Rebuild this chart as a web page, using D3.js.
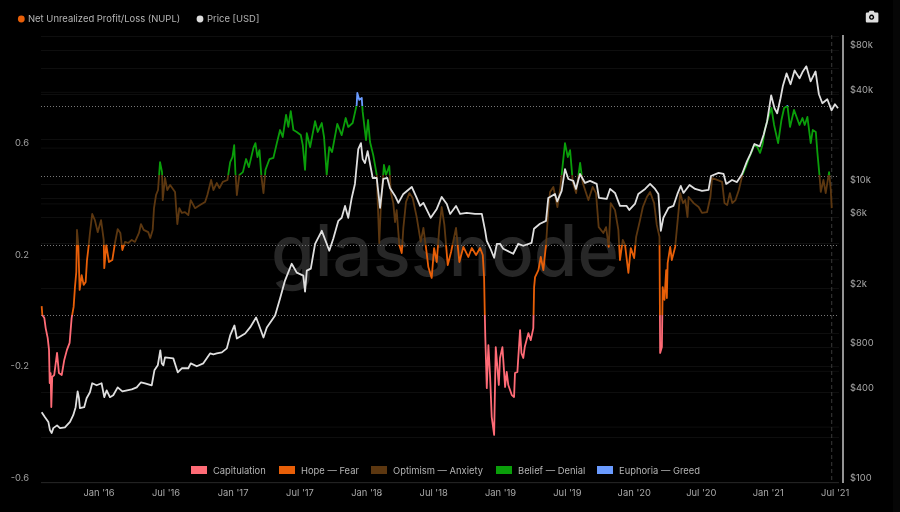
<!DOCTYPE html>
<html>
<head>
<meta charset="utf-8">
<script src="https://cdn.jsdelivr.net/npm/d3@7/dist/d3.min.js"></script>
<style>
html,body{margin:0;padding:0;background:#000;overflow:hidden}
svg{display:block;filter:blur(0.4px)}
text{font-family:Inter,"Noto Sans",sans-serif}
</style>
</head>
<body>
<svg id="chart" width="900" height="512"></svg>
<script>
// ---- data (dates as decimal years) ----
const nuplYears = [2015.575,2015.58,2015.595,2015.605,2015.62,2015.63,2015.635,2015.642,2015.647,2015.654,2015.669,2015.69,2015.704,2015.725,2015.744,2015.764,2015.784,2015.799,2015.814,2015.824,2015.834,2015.839,2015.849,2015.859,2015.874,2015.889,2015.904,2015.914,2015.923,2015.936,2015.953,2015.973,2015.994,2016.019,2016.039,2016.043,2016.058,2016.078,2016.103,2016.123,2016.143,2016.163,2016.178,2016.198,2016.222,2016.248,2016.272,2016.302,2016.317,2016.337,2016.371,2016.386,2016.404,2016.414,2016.429,2016.444,2016.459,2016.474,2016.479,2016.496,2016.513,2016.534,2016.571,2016.588,2016.603,2016.621,2016.645,2016.67,2016.688,2016.72,2016.757,2016.795,2016.812,2016.84,2016.857,2016.882,2016.902,2016.927,2016.962,2016.982,2016.999,2017.012,2017.021,2017.032,2017.051,2017.077,2017.101,2017.122,2017.156,2017.171,2017.186,2017.201,2017.216,2017.231,2017.246,2017.276,2017.305,2017.331,2017.355,2017.375,2017.4,2017.417,2017.435,2017.455,2017.48,2017.51,2017.525,2017.542,2017.555,2017.58,2017.617,2017.637,2017.667,2017.684,2017.704,2017.723,2017.744,2017.783,2017.816,2017.846,2017.865,2017.898,2017.928,2017.933,2017.948,2017.966,2017.973,2017.998,2018.013,2018.028,2018.052,2018.078,2018.097,2018.108,2018.132,2018.147,2018.172,2018.183,2018.202,2018.215,2018.227,2018.247,2018.265,2018.277,2018.297,2018.322,2018.347,2018.377,2018.407,2018.427,2018.447,2018.464,2018.489,2018.507,2018.527,2018.546,2018.564,2018.584,2018.609,2018.634,2018.671,2018.696,2018.726,2018.763,2018.789,2018.821,2018.851,2018.871,2018.881,2018.886,2018.89,2018.901,2018.913,2018.926,2018.938,2018.956,2018.968,2018.991,2019.0,2019.018,2019.038,2019.05,2019.062,2019.088,2019.105,2019.112,2019.13,2019.15,2019.16,2019.174,2019.185,2019.212,2019.23,2019.249,2019.255,2019.262,2019.287,2019.305,2019.324,2019.344,2019.361,2019.374,2019.399,2019.429,2019.449,2019.486,2019.507,2019.524,2019.544,2019.569,2019.599,2019.619,2019.661,2019.693,2019.718,2019.738,2019.773,2019.793,2019.813,2019.828,2019.86,2019.885,2019.897,2019.918,2019.935,2019.96,2019.978,2020.003,2020.018,2020.047,2020.068,2020.098,2020.122,2020.152,2020.172,2020.192,2020.197,2020.21,2020.216,2020.229,2020.242,2020.247,2020.253,2020.272,2020.284,2020.309,2020.326,2020.347,2020.367,2020.384,2020.401,2020.409,2020.447,2020.484,2020.509,2020.547,2020.572,2020.584,2020.622,2020.659,2020.677,2020.697,2020.717,2020.735,2020.759,2020.784,2020.81,2020.835,2020.86,2020.885,2020.897,2020.922,2020.942,2020.96,2020.977,2021.003,2021.027,2021.047,2021.077,2021.102,2021.122,2021.147,2021.166,2021.196,2021.237,2021.259,2021.276,2021.296,2021.321,2021.336,2021.359,2021.371,2021.386,2021.396,2021.416,2021.433,2021.458,2021.471,2021.478];
const nuplValues = [0.032,0,-0.011,-0.047,-0.082,-0.125,-0.244,-0.208,-0.33,-0.222,-0.215,-0.136,-0.208,-0.215,-0.161,-0.125,-0.1,-0.011,0.029,0.1,0.154,0.305,0.251,0.09,0.143,0.108,0.118,0.197,0.233,0.294,0.362,0.34,0.297,0.34,0.269,0.168,0.251,0.19,0.197,0.258,0.308,0.294,0.233,0.262,0.258,0.269,0.262,0.294,0.326,0.305,0.297,0.276,0.305,0.383,0.43,0.448,0.548,0.512,0.412,0.491,0.448,0.466,0.441,0.326,0.383,0.366,0.369,0.358,0.412,0.383,0.394,0.405,0.43,0.484,0.448,0.473,0.455,0.477,0.484,0.548,0.566,0.609,0.512,0.43,0.502,0.512,0.559,0.53,0.599,0.616,0.566,0.591,0.495,0.437,0.52,0.559,0.563,0.616,0.663,0.638,0.717,0.674,0.731,0.663,0.656,0.645,0.609,0.52,0.652,0.602,0.695,0.656,0.688,0.638,0.502,0.602,0.584,0.685,0.645,0.706,0.674,0.688,0.753,0.796,0.771,0.778,0.728,0.627,0.699,0.62,0.573,0.502,0.258,0.383,0.538,0.502,0.534,0.441,0.401,0.333,0.376,0.251,0.222,0.312,0.405,0.437,0.419,0.351,0.262,0.312,0.24,0.172,0.133,0.24,0.19,0.312,0.387,0.323,0.179,0.226,0.312,0.19,0.244,0.208,0.24,0.215,0.24,0.215,0.133,0.007,-0.079,-0.262,-0.108,-0.222,-0.366,-0.43,-0.115,-0.251,-0.154,-0.115,-0.258,-0.204,-0.251,-0.287,-0.294,-0.208,-0.204,-0.054,-0.136,-0.154,-0.115,-0.065,-0.09,-0.047,0.1,0.136,0.161,0.208,0.161,0.251,0.376,0.441,0.459,0.387,0.448,0.616,0.566,0.591,0.477,0.437,0.545,0.473,0.412,0.459,0.437,0.315,0.294,0.315,0.244,0.401,0.376,0.305,0.197,0.269,0.251,0.151,0.24,0.204,0.28,0.34,0.387,0.423,0.441,0.401,0.323,0.28,-0.136,-0.115,0.1,0.054,0.161,0.061,0.186,0.244,0.197,0.244,0.33,0.437,0.401,0.412,0.351,0.423,0.401,0.387,0.366,0.369,0.423,0.491,0.484,0.477,0.401,0.394,0.437,0.401,0.412,0.448,0.502,0.53,0.563,0.591,0.609,0.602,0.581,0.609,0.663,0.706,0.742,0.681,0.616,0.699,0.742,0.749,0.674,0.735,0.681,0.706,0.681,0.71,0.616,0.663,0.656,0.581,0.502,0.441,0.484,0.437,0.512,0.448,0.383];
const priceYears = [2015.575,2015.6,2015.625,2015.637,2015.65,2015.662,2015.69,2015.712,2015.749,2015.787,2015.811,2015.829,2015.844,2015.854,2015.861,2015.893,2015.911,2015.936,2015.953,2015.986,2016.023,2016.043,2016.061,2016.085,2016.11,2016.143,2016.178,2016.248,2016.285,2016.317,2016.347,2016.397,2016.417,2016.442,2016.461,2016.472,2016.484,2016.496,2016.558,2016.591,2016.621,2016.67,2016.688,2016.733,2016.782,2016.832,2016.857,2016.882,2016.92,2016.957,2016.982,2017.014,2017.032,2017.094,2017.131,2017.176,2017.193,2017.231,2017.256,2017.318,2017.355,2017.392,2017.442,2017.48,2017.529,2017.542,2017.555,2017.585,2017.617,2017.667,2017.704,2017.723,2017.753,2017.791,2017.816,2017.841,2017.865,2017.891,2017.915,2017.94,2017.96,2017.973,2017.99,2018.01,2018.048,2018.078,2018.103,2018.127,2018.157,2018.177,2018.215,2018.24,2018.277,2018.34,2018.377,2018.402,2018.427,2018.482,2018.527,2018.564,2018.602,2018.627,2018.671,2018.701,2018.751,2018.813,2018.864,2018.889,2018.901,2018.926,2018.956,2018.976,2019.0,2019.024,2019.099,2019.136,2019.174,2019.236,2019.254,2019.299,2019.344,2019.361,2019.411,2019.428,2019.461,2019.486,2019.511,2019.548,2019.568,2019.598,2019.636,2019.673,2019.723,2019.74,2019.798,2019.823,2019.86,2019.897,2019.947,2019.967,2020.009,2020.034,2020.085,2020.122,2020.159,2020.184,2020.202,2020.221,2020.259,2020.296,2020.326,2020.351,2020.371,2020.416,2020.458,2020.509,2020.558,2020.576,2020.633,2020.67,2020.69,2020.733,2020.77,2020.808,2020.845,2020.87,2020.9,2020.94,2020.97,2020.995,2021.025,2021.05,2021.07,2021.095,2021.112,2021.14,2021.17,2021.2,2021.237,2021.262,2021.288,2021.32,2021.357,2021.382,2021.408,2021.445,2021.477,2021.502,2021.525];
const priceValues = [294,272,253,223,213,230,240,230,233,253,281,318,406,365,313,318,365,400,460,446,460,371,412,371,382,432,406,419,432,467,460,446,562,607,765,626,607,686,676,545,580,580,626,598,626,730,720,730,742,789,963,1124,919,993,1090,1271,1159,933,1090,1310,1702,2248,2917,2542,2427,1896,2622,2704,3971,4854,3971,3565,4291,5664,5936,7130,5936,8064,10016,17165,18829,14707,13824,16640,10982,10982,6912,10816,10982,9414,8320,7468,8582,9562,8064,7130,7468,5936,6810,8192,7353,6300,7130,6300,6400,6300,6300,4854,4160,3734,3200,3971,3971,3677,3405,3971,3853,4032,5008,5408,5664,8064,8582,7640,8985,12608,10816,10496,9274,11686,10170,10496,10016,8064,7940,9274,8717,7130,7130,6700,7353,8582,9274,10016,9274,8582,4854,5936,6912,7130,8582,9709,8717,9856,9274,8985,9133,11328,11870,11686,10016,10650,10307,11686,14260,15885,18560,17920,21600,26400,39400,32260,29880,37660,45300,55300,46750,57900,51200,57000,61650,48900,57000,40060,34870,37090,31230,34330,32260];
const xTickYears = [2016,2016.5,2017,2017.5,2018,2018.5,2019,2019.5,2020,2020.5,2021,2021.5];
const nuplLabelTicks = [-0.6,-0.2,0.2,0.6];
const nuplGridTicks = [-0.6,-0.4,-0.2,0.2,0.4,0.6,0.8,1.0];
const thresholds = [0,0.25,0.5,0.75];
const priceLabelTicks = [100,400,800,2000,6000,10000,40000,80000];
const priceGridTicks = [100,200,400,600,800,1000,2000,4000,6000,8000,10000,20000,40000,60000,80000];
const zoneNames = ["Capitulation","Hope — Fear","Optimism — Anxiety","Belief — Denial","Euphoria — Greed"];
const zoneColors = ["#ff6b76","#e85f08","#5c3710","#0a9e0a","#6a9bff"];
const legendSwatchX = [191,279,371,496,597];
const endOfNupl = 2021.478;

// ---- helpers ----
function yearDate(y){
  const yr = Math.floor(y), a = new Date(yr,0,1), b = new Date(yr+1,0,1);
  return new Date(+a + (y-yr)*(b-a));
}
const svg = d3.select("#chart");
svg.append("rect").attr("width",900).attr("height",512).attr("fill","#000");
svg.append("rect").attr("x",893).attr("width",7).attr("height",512).attr("fill","#060606");

const L=41,R=839,B=482;
const x = d3.scaleTime().domain([yearDate(2015.57),yearDate(2021.5)]).range([L,L+(2021.5-2015.57)*133.84]);
const yN = d3.scaleLinear().domain([0,1]).range([315,36]);
const yP = d3.scaleLog().base(2).domain([100,80000]).range([B,49.5]);

// grid
const gridGroup = svg.append("g");
const gridColor="#0e0e0e";
gridGroup.selectAll(".gn").data(nuplGridTicks).join("line").attr("class","gn")
  .attr("x1",L).attr("x2",R).attr("y1",d=>yN(d)+.5).attr("y2",d=>yN(d)+.5).attr("stroke",gridColor);
gridGroup.selectAll(".gp").data(priceGridTicks).join("line").attr("class","gp")
  .attr("x1",L).attr("x2",R).attr("y1",d=>Math.round(yP(d))+.5).attr("y2",d=>Math.round(yP(d))+.5).attr("stroke",gridColor);

// watermark
svg.append("text").attr("x",271).attr("y",276).attr("textLength",348).attr("lengthAdjust","spacingAndGlyphs")
  .attr("font-size",71).attr("font-weight",500).attr("fill","#272727").style("font-family","Inter,sans-serif").text("glassnode");

// thresholds
svg.append("g").selectAll("line").data(thresholds).join("line")
  .attr("x1",L).attr("x2",R).attr("y1",d=>Math.round(yN(d))+.5).attr("y2",d=>Math.round(yN(d))+.5)
  .attr("stroke","#777").attr("stroke-width",1).attr("stroke-dasharray","1,2");

// axis bottom
const xAxis = d3.axisBottom(x).tickValues(xTickYears.map(yearDate)).tickFormat(d3.timeFormat("%b '%y")).tickSize(0).tickPadding(7);
const gx = svg.append("g").attr("transform",`translate(0,${B})`).call(xAxis);
gx.select(".domain").attr("d",`M${L},0.5H${R}`).attr("stroke","#222");
gx.selectAll("text").attr("fill","#a8a8a8").attr("font-size",9.4).style("font-family","Inter,sans-serif");

// left axis labels (sit above their gridlines)
const yAxisL = d3.axisLeft(yN).tickValues(nuplLabelTicks).tickFormat(d=>d.toFixed(1)).tickSize(0).tickPadding(12);
const gl = svg.append("g").attr("transform",`translate(${L},-5)`).call(yAxisL);
gl.select(".domain").remove();
gl.selectAll("text").attr("fill","#a0a0a0").attr("font-size",9.4).style("font-family","Inter,sans-serif");

// right axis
const fmtPrice = d=> d>=1000 ? "$"+(d/1000)+"k" : "$"+d;
const yAxisR = d3.axisRight(yP).tickValues(priceLabelTicks).tickFormat(fmtPrice).tickSize(0).tickPadding(7);
const gr = svg.append("g").attr("transform","translate(843,-5)").call(yAxisR);
gr.select(".domain").remove();
gr.selectAll("text").attr("fill","#a8a8a8").attr("font-size",9.4).style("font-family","Inter,sans-serif");
svg.append("line").attr("x1",843).attr("x2",843).attr("y1",35).attr("y2",B+1).attr("stroke","#c4c4c4").attr("stroke-width",1.5);
svg.append("line").attr("x1",x(yearDate(endOfNupl))).attr("x2",x(yearDate(endOfNupl))).attr("y1",35).attr("y2",B)
  .attr("stroke","#3a3a3a").attr("stroke-width",1).attr("stroke-dasharray","4,3");

// zone gradient
const y0=yN(1), y1=yN(-0.6);
const grad = svg.append("defs").append("linearGradient").attr("id","zones").attr("gradientUnits","userSpaceOnUse")
  .attr("x1",0).attr("x2",0).attr("y1",y0).attr("y2",y1);
const off = v=>(yN(v)-y0)/(y1-y0);
const bands = [[1,0.75,4],[0.75,0.5,3],[0.5,0.25,2],[0.25,0,1],[0,-0.6,0]];
bands.forEach(([a,b,c])=>{
  grad.append("stop").attr("offset",off(a)).attr("stop-color",zoneColors[c]);
  grad.append("stop").attr("offset",off(b)).attr("stop-color",zoneColors[c]);
});

// series
const nuplData = d3.zip(nuplYears,nuplValues);
const priceData = d3.zip(priceYears,priceValues);
svg.append("path").datum(nuplData).attr("fill","none").attr("stroke","url(#zones)").attr("stroke-width",1.8).attr("stroke-linejoin","round")
  .attr("d",d3.line().x(d=>x(yearDate(d[0]))).y(d=>yN(d[1])));
svg.append("path").datum(priceData).attr("fill","none").attr("stroke","#dfdfdf").attr("stroke-width",1.8).attr("stroke-linejoin","round")
  .attr("d",d3.line().x(d=>x(yearDate(d[0]))).y(d=>yP(d[1])));

// top legend
const topLegend = svg.append("g").attr("font-size",9.45).attr("fill","#b4b4b4");
topLegend.append("circle").attr("cx",21.3).attr("cy",19).attr("r",3.4).attr("fill","#e85f08");
topLegend.append("text").attr("x",28).attr("y",22.3).text("Net Unrealized Profit/Loss (NUPL)");
topLegend.append("circle").attr("cx",200).attr("cy",19).attr("r",3.4).attr("fill","#dcdcdc");
topLegend.append("text").attr("x",207).attr("y",22.3).text("Price [USD]");

// bottom legend
const lg = svg.append("g").selectAll("g").data(zoneNames).join("g").attr("transform",(d,i)=>`translate(${legendSwatchX[i]},466)`);
lg.append("rect").attr("width",16).attr("height",8).attr("fill",(d,i)=>zoneColors[i]);
lg.append("text").attr("x",22).attr("y",7.6).attr("font-size",9.4).attr("fill","#b4b4b4").text(d=>d);

// camera icon
svg.append("path").attr("fill","#dedede").attr("fill-rule","evenodd")
  .attr("d","M866,12.5h2.6l1,-1.7h4l1,1.7h2.6a1.2,1.2 0 0 1 1.2,1.2v7.6a1.2,1.2 0 0 1 -1.2,1.2h-10.2a1.2,1.2 0 0 1 -1.2,-1.2v-7.6a1.2,1.2 0 0 1 1.2,-1.2z M871.6,14.6a2.6,2.6 0 1 0 0.01,0z M871.6,16a1.2,1.2 0 1 1 -0.01,0z");
</script>
</body>
</html>
